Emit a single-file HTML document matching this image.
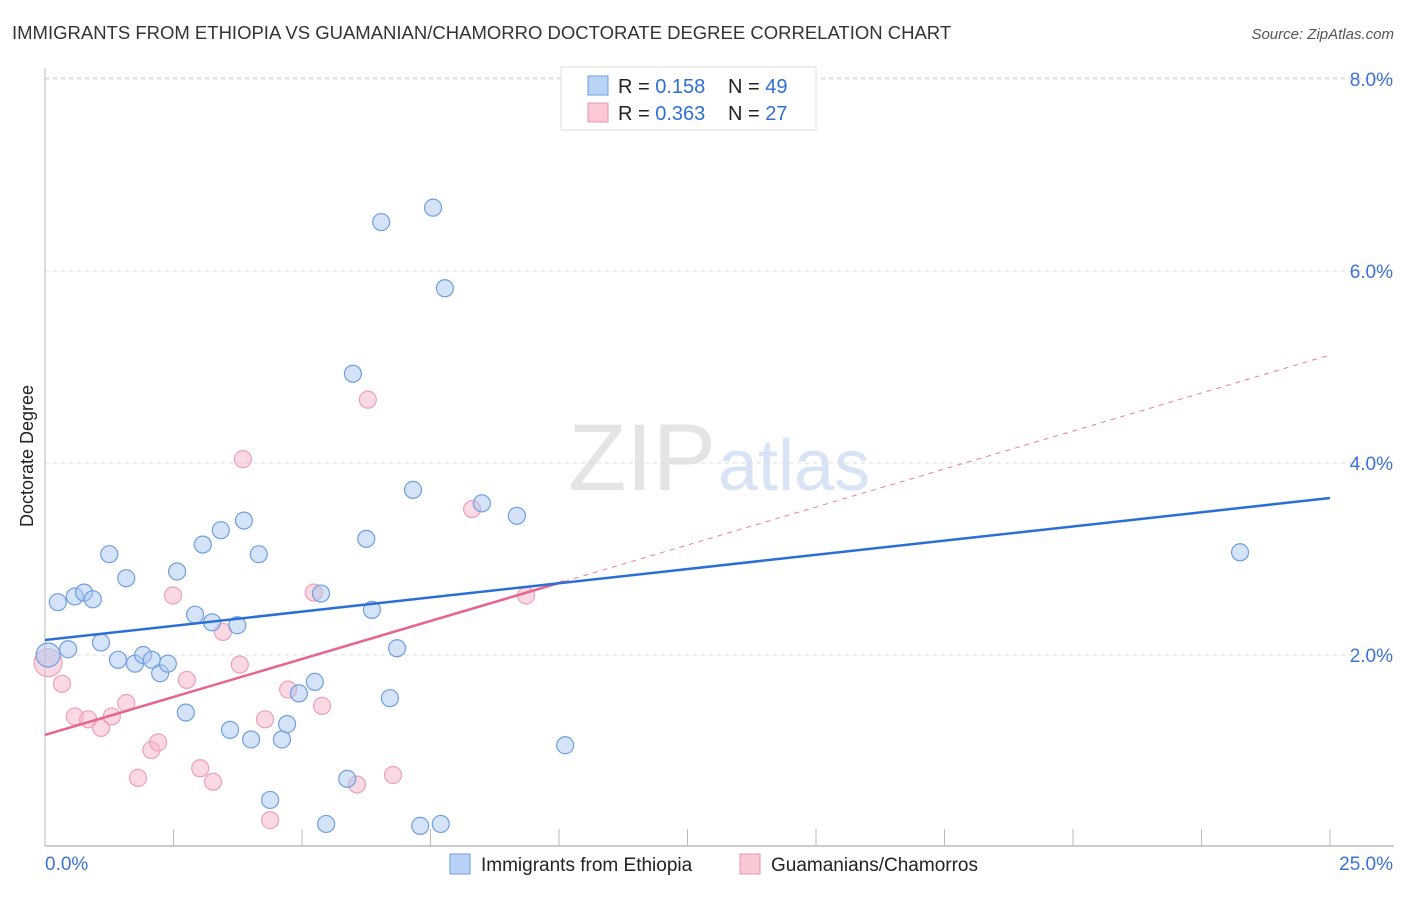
<!DOCTYPE html>
<html><head><meta charset="utf-8"><style>
body{margin:0;background:#fff;font-family:"Liberation Sans",sans-serif}
svg text{font-family:"Liberation Sans",sans-serif}
</style></head><body>
<svg id="chart" width="1406" height="892" xmlns="http://www.w3.org/2000/svg">
<text x="12" y="39" font-size="18.5" fill="#333">IMMIGRANTS FROM ETHIOPIA VS GUAMANIAN/CHAMORRO DOCTORATE DEGREE CORRELATION CHART</text>
<text x="1394" y="39" font-size="15" fill="#555" text-anchor="end" font-style="italic">Source: ZipAtlas.com</text>
<text x="716" y="490" font-size="95" fill="#e4e4e4" text-anchor="end" font-family="Liberation Serif">ZIP</text>
<text x="718" y="490" font-size="72" fill="#d8e4f5">atlas</text>
<text transform="translate(33,456) rotate(-90)" font-size="18" fill="#222" text-anchor="middle">Doctorate Degree</text>
<g id="grid"></g><g id="axes"></g><g id="marks"></g>
<g>
<rect x="561" y="67" width="255" height="63" fill="#fff" stroke="#ddd"/>
<rect x="588" y="76" width="20" height="19" fill="#b8d3f5" stroke="#6d9de0"/>
<text x="618" y="93" font-size="20" fill="#222">R = <tspan fill="#2f6fd6">0.158</tspan></text>
<text x="728" y="93" font-size="20" fill="#222">N = <tspan fill="#2f6fd6">49</tspan></text>
<rect x="588" y="103" width="20" height="19" fill="#fbc8d6" stroke="#eb93ae"/>
<text x="618" y="120" font-size="20" fill="#222">R = <tspan fill="#2f6fd6">0.363</tspan></text>
<text x="728" y="120" font-size="20" fill="#222">N = <tspan fill="#2f6fd6">27</tspan></text>
</g>
<g>
<rect x="450" y="854" width="20" height="20" fill="#b8d3f5" stroke="#6d9de0"/>
<text x="481" y="871" font-size="19" fill="#222">Immigrants from Ethiopia</text>
<rect x="740" y="854" width="20" height="20" fill="#fbc8d6" stroke="#eb93ae"/>
<text x="771" y="871" font-size="19" fill="#222">Guamanians/Chamorros</text>
</g>
</svg>
<script>
const ethX=[0.25,0.58,0.76,0.93,0.45,1.09,1.25,1.58,1.42,1.75,1.91,2.08,2.24,2.39,2.57,2.74,2.92,3.07,3.25,3.42,3.6,3.74,3.87,4.01,4.16,4.38,4.61,4.71,4.94,5.25,5.37,5.47,5.88,5.99,6.25,6.36,6.54,6.71,6.85,7.16,7.3,7.55,7.7,7.78,8.5,9.18,10.12,23.25,0.06];
const ethY=[2.55,2.61,2.65,2.58,2.06,2.13,3.05,2.8,1.95,1.91,2.0,1.95,1.81,1.91,2.87,1.4,2.42,3.15,2.34,3.3,1.22,2.31,3.4,1.12,3.05,0.49,1.12,1.28,1.6,1.72,2.64,0.24,0.71,4.93,3.21,2.47,6.51,1.55,2.07,3.72,0.22,6.66,0.24,5.82,3.58,3.45,1.06,3.07,2.0];
const guaX=[0.06,0.33,0.58,0.84,1.09,1.3,1.58,1.81,2.07,2.2,2.49,2.76,3.02,3.27,3.46,3.79,3.85,4.28,4.38,4.73,5.23,5.39,6.07,6.28,6.77,8.31,9.36];
const guaY=[1.92,1.7,1.36,1.33,1.24,1.36,1.5,0.72,1.01,1.09,2.62,1.74,0.82,0.68,2.24,1.9,4.04,1.33,0.28,1.64,2.65,1.47,0.65,4.66,0.75,3.52,2.62];
const xTicks=[0,2.5,5,7.5,10,12.5,15,17.5,20,22.5,25];
const yTicks=[2,4,6,8];
const yTickLabels=["2.0%","4.0%","6.0%","8.0%"];
const ethLine=[2.156,3.635];
const guaLine=[1.167,5.125];
const guaSolidEnd=10.1;
const NS="http://www.w3.org/2000/svg";
const X=v=>45+v*51.4, Y=v=>847-v*96;
function mk(p,t,a){const e=document.createElementNS(NS,t);for(const k in a)e.setAttribute(k,a[k]);document.getElementById(p).appendChild(e);return e;}
yTicks.forEach((t,i)=>{
 const g=mk('grid','line',{x1:45,x2:1394,y1:Y(t),y2:Y(t),stroke:'#ddd','stroke-dasharray':'4,4'});
 
 
 const l=mk('axes','text',{x:1393,y:Y(t)+7,'font-size':19,fill:'#3b73d4','text-anchor':'end'});
 l.textContent=yTickLabels[i];
 
 
});
const topGrid=mk('grid','line',{x1:45,x2:1394,y1:78,y2:78,stroke:'#ddd','stroke-dasharray':'4,4'});


const ax=mk('axes','line',{x1:45,x2:45,y1:68,y2:846,stroke:'#bbb'});


const bx=mk('axes','line',{x1:45,x2:1394,y1:846,y2:846,stroke:'#bbb','stroke-width':1.5});


xTicks.forEach(t=>{const e=mk('axes','line',{x1:X(t),x2:X(t),y1:829,y2:846,stroke:'#bbb'});
 
 });
const xl0=mk('axes','text',{x:45,y:870,'font-size':19,fill:'#3b73d4'});xl0.textContent=xTicks[0].toFixed(1)+'%';


const xl1=mk('axes','text',{x:1393,y:870,'font-size':19,fill:'#3b73d4','text-anchor':'end'});xl1.textContent=xTicks[10].toFixed(1)+'%';


guaX.forEach((v,i)=>{const c=mk('marks','circle',{cx:X(v),cy:Y(guaY[i]),r:i===0?14:8.5,fill:'rgba(248,180,200,0.5)',stroke:'#eda0b8','stroke-width':1.2});
 
 });
ethX.forEach((v,i)=>{const c=mk('marks','circle',{cx:X(v),cy:Y(ethY[i]),r:i===ethX.length-1?12:8.5,fill:'rgba(170,200,240,0.5)',stroke:'#6f9fe0','stroke-width':1.2});
 
 });
const gAt=x=>guaLine[0]+(guaLine[1]-guaLine[0])*x/25;
const gd=mk('marks','line',{x1:X(guaSolidEnd),y1:Y(gAt(guaSolidEnd)),x2:X(25),y2:Y(guaLine[1]),stroke:'#e8809f','stroke-dasharray':'5,5'});


const gs=mk('marks','line',{x1:X(0),y1:Y(guaLine[0]),x2:X(guaSolidEnd),y2:Y(gAt(guaSolidEnd)),stroke:'#e8648d','stroke-width':2.5});


const el=mk('marks','line',{x1:X(0),y1:Y(ethLine[0]),x2:X(25),y2:Y(ethLine[1]),stroke:'#2a6fd6','stroke-width':2.5});


</script>
</body></html>
